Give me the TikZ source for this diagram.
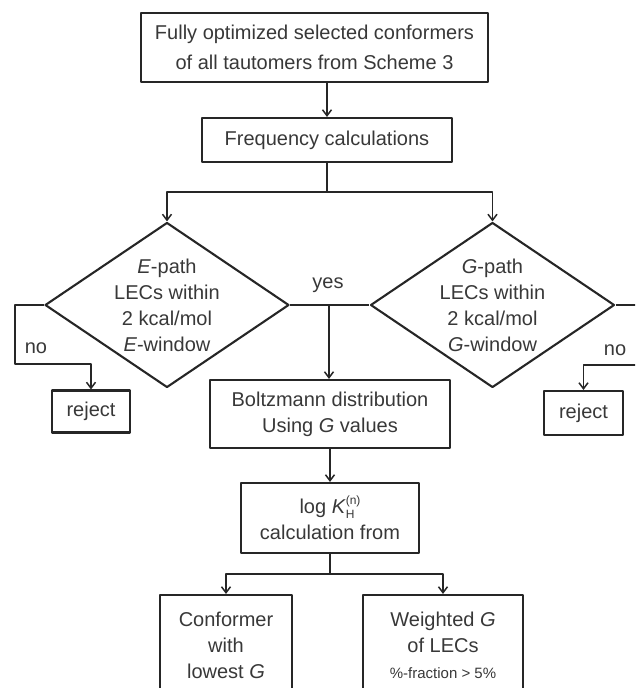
\documentclass[tikz,border=0pt]{standalone}
\usepackage{fontspec}
\setmainfont{Liberation Sans}
\usetikzlibrary{shapes.geometric,arrows.meta}
\begin{document}
\begin{tikzpicture}[x=1pt, y=-1pt, line join=round, >={Straight Barb[length=6pt,width=9pt]},
	every node/.style={text=black!78, font=\fontsize{20}{26}\selectfont},
	stepbox/.style={draw=black!85, line width=2.1pt, inner sep=0pt, align=center},
	decision/.style={draw=black!85, diamond, line width=2.1pt, inner sep=0pt, minimum width=244pt, minimum height=165pt},
	link/.style={draw=black!85, line width=1.5pt}]
	\useasboundingbox (0,0) rectangle (635,688);
	\clip (0,0) rectangle (635,688);
	% boxes
	\node[stepbox, minimum width=347pt, minimum height=69pt, font=\fontsize{20}{30}\selectfont] (start) at (314.5,47.5) {Fully optimized selected conformers\\of all tautomers from Scheme 3};
	\node[stepbox, minimum width=250pt, minimum height=44pt] (freq) at (327,140) {Frequency calculations};
	\node[decision, label={[align=center]center:{\textit{E}-path\\LECs within\\2 kcal/mol\\\textit{E}-window}}] (epath) at (167,305) {};
	\node[decision, label={[align=center]center:{\textit{G}-path\\LECs within\\2 kcal/mol\\\textit{G}-window}}] (gpath) at (492.5,305) {};
	\node[stepbox, minimum width=240pt, minimum height=68pt] (boltz) at (330,414) {Boltzmann distribution\\Using \textit{G} values};
	\node[stepbox, minimum width=78pt, minimum height=42pt] (erej) at (91,411.5) {reject};
	\node[stepbox, minimum width=79pt, minimum height=44pt] (grej) at (583.5,413) {reject};
	\node[stepbox, minimum width=178pt, minimum height=70pt] (logk) at (330,518) {log \textit{K}\makebox[0pt][l]{\raisebox{-5pt}{\fontsize{12}{12}\selectfont H}}\raisebox{9pt}{\fontsize{12}{12}\selectfont (n)}\\calculation from};
	\node[stepbox, minimum width=132pt, minimum height=100pt] (lowest) at (226,645) {Conformer\\with\\lowest \textit{G}};
	\node[stepbox, minimum width=160pt, minimum height=100pt] (weight) at (443,645) {Weighted \textit{G}\\of LECs\\{\fontsize{15}{18}\selectfont\%-fraction > 5\%}};
	% connectors
	\coordinate (split) at (327,192);
	\coordinate (yes) at (329,305);
	\coordinate (eno) at (15,364);
	\coordinate (gno) at (645,365);
	\coordinate (split2) at (330,574);
	\draw[link,->] (start.south -| freq.north) -- (freq.north);
	\draw[link] (freq.south) -- (split);
	\draw[link,->] (split) -| (epath.north);
	\draw[link,->] (split) -| (gpath.north);
	\draw[link] (epath.east) -- (gpath.west);
	\node (yeslabel) at (328,285) {yes};
	\draw[link,->] (yes) -- (yes |- boltz.north);
	\draw[link,->] (epath.west) -| (eno) -| (erej.north);
	\node (enolabel) at (36,348) {no};
	\draw[link,->] (gpath.east) -| (gno) -| (grej.north);
	\node (gnolabel) at (615,350) {no};
	\draw[link,->] (boltz.south) -- (logk.north);
	\draw[link] (logk.south) -- (split2);
	\draw[link,->] (split2) -| (lowest.north);
	\draw[link,->] (split2) -| (weight.north);
\end{tikzpicture}
\end{document}
